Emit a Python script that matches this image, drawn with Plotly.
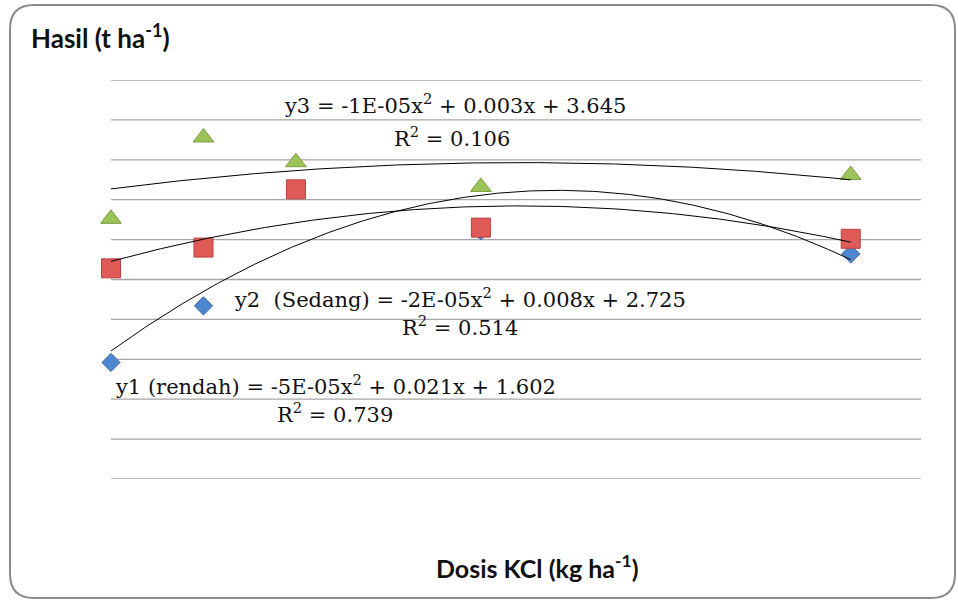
import numpy as np
import plotly.graph_objects as go

# ---- data ----
dosis = [0, 50, 100, 200, 400]                 # Dosis KCl (kg ha-1)
y1_rendah = [1.46, 2.17, 3.63, 3.11, 2.82]     # blue diamonds
y2_sedang = [2.64, 2.90, 3.63, 3.15, 3.01]     # red squares
y3_tinggi = [3.26, 4.28, 3.97, 3.66, 3.81]     # green triangles
y_ticks = [0, 0.5, 1, 1.5, 2, 2.5, 3, 3.5, 4, 4.5, 5]

eq_texts = [
    ("y3 = -1E-05x<sup>2</sup> + 0.003x + 3.645", "R<sup>2</sup> = 0.106"),
    ("y2  (Sedang) = -2E-05x<sup>2</sup> + 0.008x + 2.725", "R<sup>2</sup> = 0.514"),
    ("y1 (rendah) = -5E-05x<sup>2</sup> + 0.021x + 1.602", "R<sup>2</sup> = 0.739"),
]
y_title = "Hasil (t ha<sup>-1</sup>)"
x_title = "Dosis KCl (kg ha<sup>-1</sup>)"

# ---- layout geometry ----
W, H = 958, 600
ML, MR, MT, MB = 111, 37, 80, 121
PW, PH = W - ML - MR, H - MT - MB


def px(x):
    return (x - ML) / PW


def py(y):
    return (H - MB - y) / PH


fig = go.Figure()

# gridlines
for t in y_ticks:
    fig.add_shape(type="line", xref="paper", yref="y", x0=0, x1=1, y0=t, y1=t,
                  line=dict(color="#A6A6A6", width=1.3), layer="below")

series = [
    (y1_rendah, "diamond", 14, "#4F86D0", "#3A68A8"),
    (y2_sedang, "square", 19, "#E05A58", "#B8403E"),
    (y3_tinggi, "triangle-up", 18, "#9CC25A", "#7C9E40"),
]
for vals, sym, size, col, edge in series:
    fig.add_trace(go.Scatter(
        x=dosis, y=vals, mode="markers", cliponaxis=False,
        marker=dict(symbol=sym, size=size, color=col,
                    line=dict(color=edge, width=1)),
        showlegend=False, hoverinfo="skip"))

xx = np.linspace(min(dosis), max(dosis), 300)
for vals, _, _, _, _ in series:
    coef = np.polyfit(dosis, vals, 2)
    fig.add_trace(go.Scatter(
        x=xx, y=np.polyval(coef, xx), mode="lines", cliponaxis=False,
        line=dict(color="black", width=1),
        showlegend=False, hoverinfo="skip"))

# rounded outer border
x0, y0, x1, y1, r = 10, 5, 955, 598, 24
pts = [
    ("M", (x0 + r, y0)), ("L", (x1 - r, y0)), ("Q", (x1, y0), (x1, y0 + r)),
    ("L", (x1, y1 - r)), ("Q", (x1, y1), (x1 - r, y1)),
    ("L", (x0 + r, y1)), ("Q", (x0, y1), (x0, y1 - r)),
    ("L", (x0, y0 + r)), ("Q", (x0, y0), (x0 + r, y0)),
]
path = ""
for cmd, *cs in pts:
    path += cmd + " ".join(f"{px(a):.5f},{py(b):.5f}" for a, b in cs) + " "
path += "Z"
fig.add_shape(type="path", path=path, xref="paper", yref="paper",
              line=dict(color="#8A8A8A", width=2), layer="below")

annos = []
serif = "DejaVu Serif"
eq_pos = [((455, 104), (452, 137)), ((460, 298), (460, 326)), ((335, 385), (335, 413))]
for (l1, l2), (p1, p2) in zip(eq_texts, eq_pos):
    for txt, (ax_, ay_) in ((l1, p1), (l2, p2)):
        annos.append(dict(text=txt, x=px(ax_), y=py(ay_), xref="paper", yref="paper",
                          xanchor="center", yanchor="middle", showarrow=False,
                          font=dict(family=serif, size=21, color="#111")))
annos.append(dict(text="<b>" + y_title + "</b>", x=px(29), y=py(36), xref="paper",
                  yref="paper", xanchor="left", yanchor="middle", showarrow=False,
                  font=dict(family="Lato", size=26, color="#111")))
annos.append(dict(text="<b>" + x_title + "</b>", x=px(537), y=py(566), xref="paper",
                  yref="paper", xanchor="center", yanchor="middle", showarrow=False,
                  font=dict(family="Lato", size=25, color="#111")))

fig.update_layout(
    width=W, height=H, margin=dict(l=ML, r=MR, t=MT, b=MB),
    paper_bgcolor="white", plot_bgcolor="white",
    annotations=annos,
    xaxis=dict(range=[0, 438], showgrid=False, zeroline=False, showticklabels=False,
               ticks="", showline=False, fixedrange=True),
    yaxis=dict(range=[0, 5], showgrid=False, zeroline=False,
               showticklabels=False, ticks="", showline=False, fixedrange=True),
)
fig.write_html("out.html", config={"displayModeBar": False},
               post_script="document.body.style.margin='0';document.body.style.overflow='hidden';")
